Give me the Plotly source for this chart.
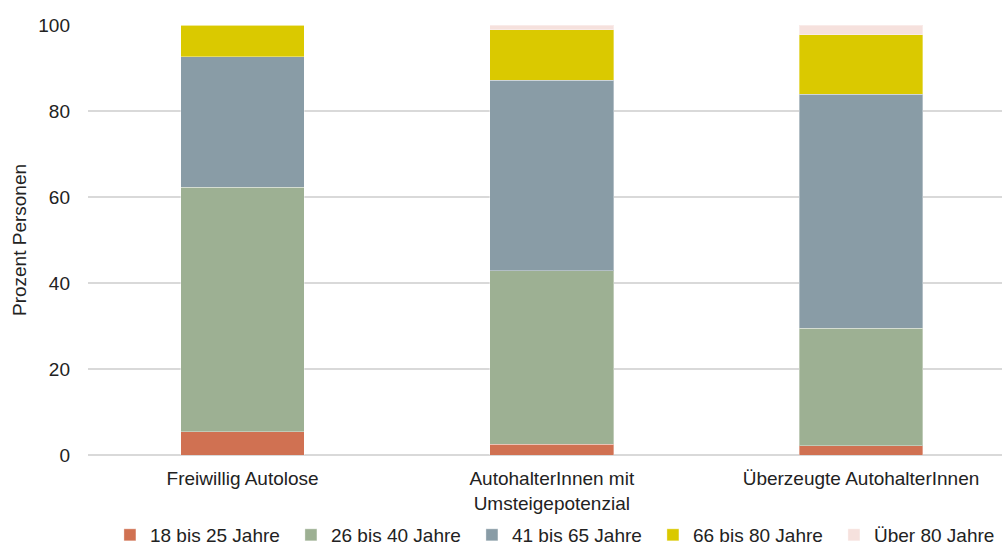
import plotly.graph_objects as go

categories = ["Freiwillig Autolose", "AutohalterInnen mit<br>Umsteigepotenzial", "Überzeugte AutohalterInnen"]
series_names = ["18 bis 25 Jahre", "26 bis 40 Jahre", "41 bis 65 Jahre", "66 bis 80 Jahre", "Über 80 Jahre"]
age_18_25 = [5.4, 2.5, 2.1]
age_26_40 = [56.9, 40.3, 27.4]
age_41_65 = [30.3, 44.4, 54.4]
age_66_80 = [7.4, 11.7, 13.8]
age_over_80 = [0.0, 1.1, 2.3]
colors = ["#D07152", "#9DB093", "#899CA6", "#DAC900", "#F6E1DD"]
y_ticks = [0, 20, 40, 60, 80, 100]

values = [age_18_25, age_26_40, age_41_65, age_66_80, age_over_80]

fig = go.Figure()
for name, vals, col in zip(series_names, values, colors):
    fig.add_trace(go.Bar(
        x=[0, 1, 2], y=vals, name=name,
        marker=dict(color=col, line=dict(color="rgba(255,255,255,0.35)", width=1)),
        width=0.4,
    ))

font = "Liberation Sans, Arial, sans-serif"
fig.update_layout(
    barmode="stack",
    width=1002, height=547,
    margin=dict(l=88, r=0, t=25, b=92, autoexpand=False),
    plot_bgcolor="white", paper_bgcolor="white",
    font=dict(family=font, size=19, color="#222222"),
    showlegend=True,
    legend=dict(orientation="h", x=0.024, xanchor="left", xref="paper",
                y=-0.186, yanchor="middle", yref="paper", font=dict(size=19),
                entrywidth=136, itemwidth=30, traceorder="normal",
                tracegroupgap=0),
    xaxis=dict(range=[-0.5, 2.456], tickmode="array", tickvals=[0, 1, 2],
               ticktext=categories, showgrid=False, zeroline=False,
               showline=False, ticks="", ticklabelstandoff=10),
    yaxis=dict(range=[0, 100], tickvals=y_ticks, showgrid=True,
               gridcolor="#D9D9D9", gridwidth=1.5, zeroline=True,
               zerolinecolor="#D9D9D9", zerolinewidth=1.5, ticks="",
               ticklabelstandoff=17,
               title=dict(text="Prozent Personen", standoff=6, font=dict(size=19))),
)
fig.write_html("out.html")
